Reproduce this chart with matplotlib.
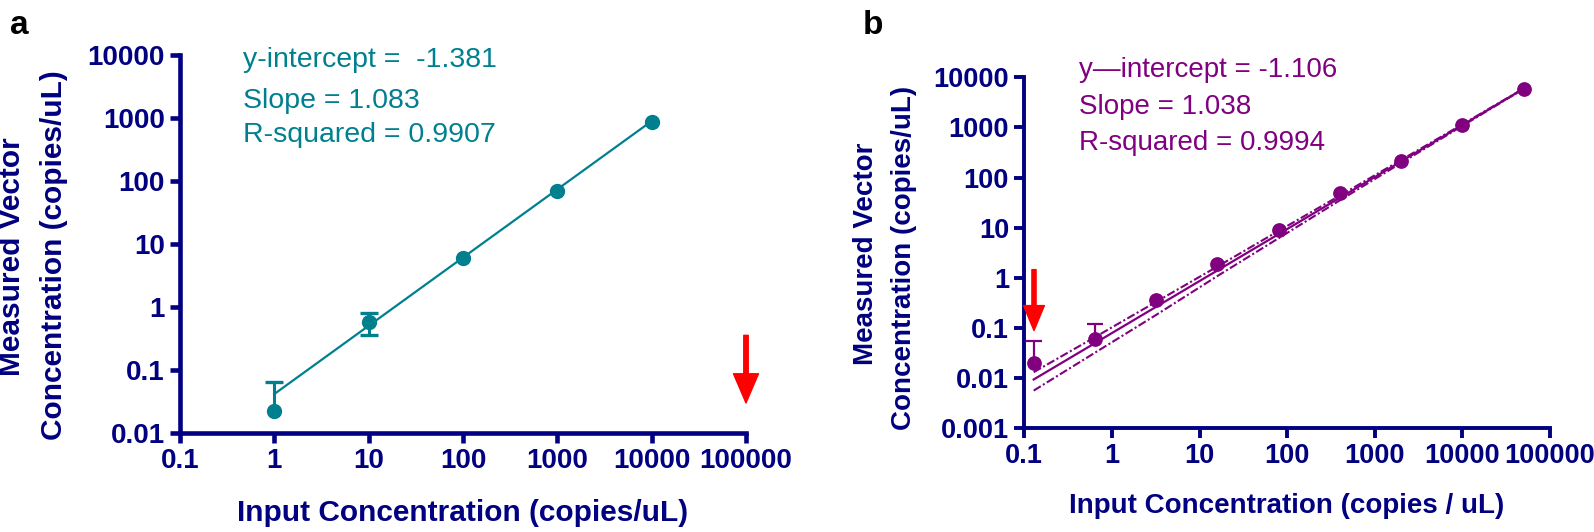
import matplotlib
matplotlib.use("Agg")
import matplotlib.pyplot as plt
from matplotlib.ticker import FixedLocator, FixedFormatter, NullLocator

plt.rcParams['font.family'] = ['Liberation Sans', 'DejaVu Sans']

# ---------------- data ----------------
# Panel a
a_x = [1, 10, 100, 1000, 10000]
a_y = [0.0224, 0.58, 5.9, 70.5, 850]
a_err_low = [0.0, 0.225, 0.0, 0.0, 0.0]
a_err_up = [0.041, 0.23, 0.0, 0.0, 0.0]
a_fit_x = [1, 10000]
a_fit_y = [0.0416, 893]
a_arrow_x = 100000
a_arrow_from = 0.355
a_arrow_to = 0.03
a_stats = ["y-intercept =  -1.381", "Slope = 1.083", "R-squared = 0.9907"]

# Panel b
b_x = [0.128, 0.64, 3.2, 16, 80, 400, 2000, 10000, 50000]
b_y = [0.020, 0.059, 0.356, 1.89, 9.0, 48, 213, 1094, 5900]
b_err_low = [0, 0, 0, 0, 0, 0, 0, 0, 0]
b_err_up = [0.035, 0.061, 0, 0, 0, 0, 0, 0, 0]
b_fit_x = [0.128, 50000]
b_fit_y = [0.0093, 5916]
b_band_x = [0.128, 0.64, 3.2, 16, 80, 400, 2000, 10000, 50000]
b_band_upper = [0.0130, 0.065, 0.330, 1.67, 8.61, 43.6, 224, 1150, 5980]
b_band_lower = [0.00558, 0.0318, 0.181, 1.08, 6.15, 35.1, 195, 1074, 5850]
b_arrow_x = 0.129
b_arrow_from = 1.45
b_arrow_to = 0.088
b_stats = ["y\u2014intercept = -1.106", "Slope = 1.038", "R-squared = 0.9994"]

xticks = [0.1, 1, 10, 100, 1000, 10000, 100000]
xticklabels = ["0.1", "1", "10", "100", "1000", "10000", "100000"]
a_yticks = [0.01, 0.1, 1, 10, 100, 1000, 10000]
a_yticklabels = ["0.01", "0.1", "1", "10", "100", "1000", "10000"]
b_yticks = [0.001, 0.01, 0.1, 1, 10, 100, 1000, 10000]
b_yticklabels = ["0.001", "0.01", "0.1", "1", "10", "100", "1000", "10000"]

NAVY = '#000080'
TEAL = '#00808F'
PURPLE = '#800080'
RED = '#FF0000'

W, H = 1594, 532
fig = plt.figure(figsize=(W / 100, H / 100), dpi=100)


def fx(px):
    return px / W


def fy(py):
    return 1 - py / H


def style_axes(ax, yt, ytl, ylim, lw, fs):
    ax.set_xscale('log')
    ax.set_yscale('log')
    ax.set_xlim(0.1, 100000)
    ax.set_ylim(*ylim)
    ax.xaxis.set_major_locator(FixedLocator(xticks))
    ax.xaxis.set_major_formatter(FixedFormatter(xticklabels))
    ax.yaxis.set_major_locator(FixedLocator(yt))
    ax.yaxis.set_major_formatter(FixedFormatter(ytl))
    ax.xaxis.set_minor_locator(NullLocator())
    ax.yaxis.set_minor_locator(NullLocator())
    for s in ['top', 'right']:
        ax.spines[s].set_visible(False)
    for s in ['left', 'bottom']:
        ax.spines[s].set_color(NAVY)
        ax.spines[s].set_linewidth(lw)
        ax.spines[s].set_capstyle('projecting')
    ax.tick_params(axis='both', which='major', color=NAVY, width=lw, length=7,
                   labelcolor=NAVY, labelsize=fs)
    ax.tick_params(axis='x', pad=4)
    ax.tick_params(axis='y', pad=4)
    for lab in ax.get_xticklabels() + ax.get_yticklabels():
        lab.set_fontweight('bold')
    ax.patch.set_alpha(0)


def draw_errors(ax, xs, ys, lo, up, color, elw, capw, capt):
    """Error bars: a cap is drawn only on a side that has a non-zero error."""
    for x, y, l, u in zip(xs, ys, lo, up):
        if l > 0:
            ax.plot([x, x], [y - l, y], color=color, lw=elw, zorder=3,
                    solid_capstyle='butt', clip_on=False)
            ax.plot([x], [y - l], marker='_', ms=capw, mew=capt, color=color,
                    zorder=3, clip_on=False)
        if u > 0:
            ax.plot([x, x], [y, y + u], color=color, lw=elw, zorder=3,
                    solid_capstyle='butt', clip_on=False)
            ax.plot([x], [y + u], marker='_', ms=capw, mew=capt, color=color,
                    zorder=3, clip_on=False)


# ---------------- panel a ----------------
axa = fig.add_axes([fx(180), fy(433), fx(746 - 180), (433 - 55) / H])
style_axes(axa, a_yticks, a_yticklabels, (0.01, 10000), 3.3, 20)
axa.plot(a_fit_x, a_fit_y, color=TEAL, lw=1.6, zorder=2)
draw_errors(axa, a_x, a_y, a_err_low, a_err_up, TEAL, 2.2, 13, 2.4)
axa.plot(a_x, a_y, 'o', color=TEAL, ms=10, zorder=4, clip_on=False)
axa.annotate('', xy=(a_arrow_x, a_arrow_to), xytext=(a_arrow_x, a_arrow_from),
             arrowprops=dict(arrowstyle='simple,head_length=21,head_width=18,tail_width=3.2',
                             color=RED, shrinkA=0, shrinkB=0, mutation_scale=1),
             annotation_clip=False)
for txt, base in zip(a_stats, [66.7, 107.7, 141.7]):
    fig.text(fx(243), fy(base), txt, color=TEAL, fontsize=20.5, va='baseline', ha='left')

fig.text(fx(12), fy(257), "Measured Vector", rotation=90, ha='center', va='center',
         color=NAVY, fontsize=21.5, fontweight='bold')
fig.text(fx(54), fy(255), "Concentration (copies/uL)", rotation=90, ha='center', va='center',
         color=NAVY, fontsize=21.5, fontweight='bold')
fig.text(fx(463), fy(513), "Input Concentration (copies/uL)", ha='center', va='center',
         color=NAVY, fontsize=21.5, fontweight='bold')
fig.text(fx(10), fy(34), "a", ha='left', va='baseline', color='black', fontsize=24,
         fontweight='bold')

# ---------------- panel b ----------------
axb = fig.add_axes([fx(1024.3), fy(428), fx(1550 - 1024.3), (428 - 77.3) / H])
style_axes(axb, b_yticks, b_yticklabels, (0.001, 10000), 2.8, 19.5)
dd = (0, (4, 1.2, 1, 1.2))
axb.plot(b_band_x, b_band_upper, color=PURPLE, lw=1.5, ls=dd, zorder=2)
axb.plot(b_band_x, b_band_lower, color=PURPLE, lw=1.5, ls=dd, zorder=2)
axb.plot(b_fit_x, b_fit_y, color=PURPLE, lw=1.6, zorder=2)
draw_errors(axb, b_x, b_y, b_err_low, b_err_up, PURPLE, 1.6, 11.5, 1.6)
axb.plot(b_x, b_y, 'o', color=PURPLE, ms=9.6, zorder=4, clip_on=False)
axb.annotate('', xy=(b_arrow_x, b_arrow_to), xytext=(b_arrow_x, b_arrow_from),
             arrowprops=dict(arrowstyle='simple,head_length=18,head_width=15,tail_width=3',
                             color=RED, shrinkA=0, shrinkB=0, mutation_scale=1),
             annotation_clip=False)
for txt, base in zip(b_stats, [76.7, 114, 150]):
    fig.text(fx(1079), fy(base), txt, color=PURPLE, fontsize=20, va='baseline', ha='left')

fig.text(fx(866), fy(254), "Measured Vector", rotation=90, ha='center', va='center',
         color=NAVY, fontsize=20, fontweight='bold')
fig.text(fx(904), fy(258), "Concentration (copies/uL)", rotation=90, ha='center', va='center',
         color=NAVY, fontsize=20, fontweight='bold')
fig.text(fx(1287), fy(506), "Input Concentration (copies / uL)", ha='center', va='center',
         color=NAVY, fontsize=20, fontweight='bold')
fig.text(fx(863), fy(34), "b", ha='left', va='baseline', color='black', fontsize=24,
         fontweight='bold')

fig.savefig('out.png', dpi=100)
